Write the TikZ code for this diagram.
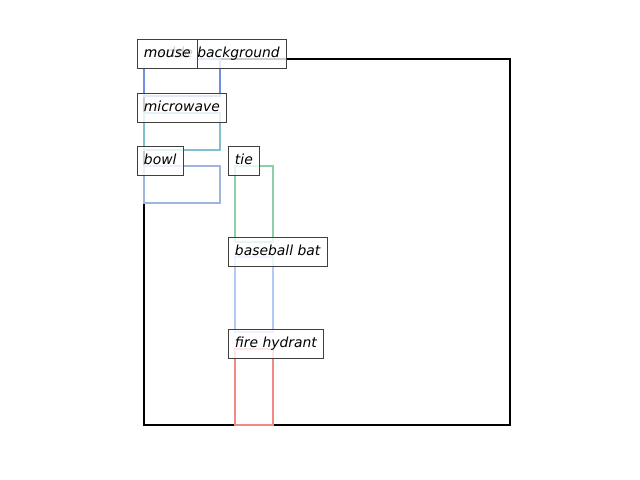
\documentclass[tikz,border=0pt]{standalone}
\usepackage{fontspec}
\setmainfont{DejaVu Sans}
\usepackage{tikz}

\definecolor{cmouse}{HTML}{6F8FE2}
\definecolor{cmicro}{HTML}{80BFCF}
\definecolor{cbowl}{HTML}{9FB5DD}
\definecolor{ctie}{HTML}{8CCFA8}
\definecolor{cbat}{HTML}{B3C8F2}
\definecolor{chydrant}{HTML}{F28A82}
\definecolor{cedge}{HTML}{3F3F3F}

\tikzset{
  lbl/.style={draw=cedge,line width=0.72pt,fill=white,fill opacity=0.8,text opacity=1,
    anchor=west,inner xsep=5pt,inner ysep=0pt,outer sep=0pt,minimum height=20.2pt,
    text height=7.6pt,text depth=2.4pt,font=\itshape\fontsize{10}{12}\selectfont},
  bbox/.style={line width=1.44pt,line join=miter}
}

\begin{document}
\begin{tikzpicture}[x=0.72pt,y=-0.72pt]
  \useasboundingbox (0,0) rectangle (640,480);

  % image frame
  \draw[line width=1.44pt] (144,59) rectangle (510,425);

  % detected boxes
  \draw[bbox,cmouse] (144,59) rectangle (220,96);
  \draw[bbox,cmicro] (144,113) rectangle (220,150);
  \draw[bbox,cbowl] (144,166) rectangle (220,203);
  \draw[bbox,ctie] (235,166) rectangle (273,242);
  \draw[bbox,cbat] (235,257) rectangle (273,332);
  \draw[bbox,chydrant] (235,349) rectangle (273,425);

  % labels
  \node[lbl] (background) at (137,54) {marble background};
  \node[lbl] (mouse) at (137,54) {mouse};
  \node[lbl] (microwave) at (137,108) {microwave};
  \node[lbl] (bowl) at (137,161) {bowl};
  \node[lbl] (tie) at (228,161) {tie};
  \node[lbl] (bat) at (228,252) {baseball bat};
  \node[lbl] (hydrant) at (228,344) {fire hydrant};

\end{tikzpicture}
\end{document}
